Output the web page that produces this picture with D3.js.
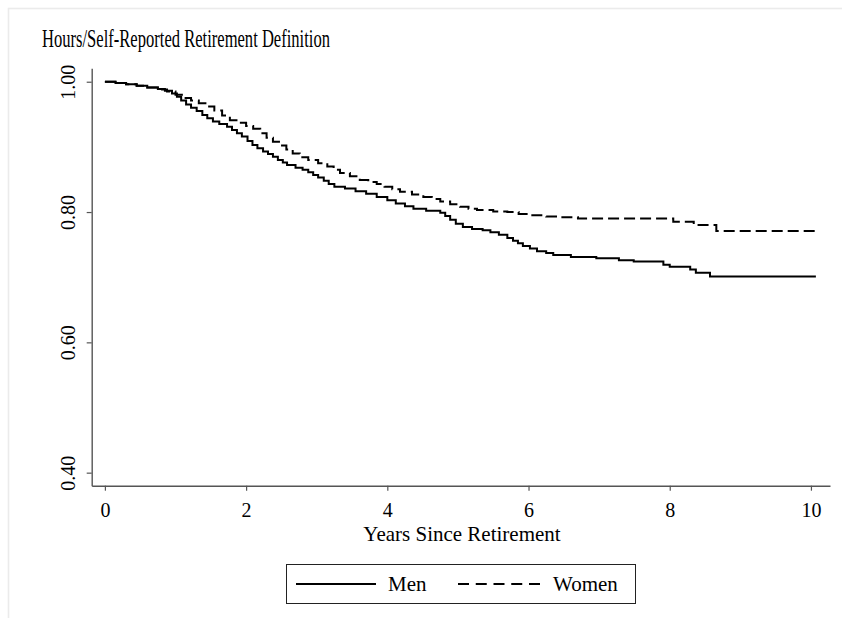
<!DOCTYPE html>
<html>
<head>
<meta charset="utf-8">
<script src="https://cdn.jsdelivr.net/npm/d3@7"></script>
<style>
  html, body { margin: 0; padding: 0; background: #fff; }
  svg { display: block; }
  text { font-family: "Liberation Serif", "Times New Roman", serif; fill: #000; }
</style>
</head>
<body>
<svg id="chart" width="842" height="618"></svg>
<script>
// ---- Data ----
const title = "Hours/Self-Reported Retirement Definition";
const xLabel = "Years Since Retirement";
const seriesNames = ["Men", "Women"];

// Kaplan-Meier step points: time (years) and survival probability
const menTimes = [0, 0.15, 0.30, 0.45, 0.60, 0.75, 0.85, 0.95, 1.02, 1.08, 1.15, 1.22, 1.30, 1.38, 1.45, 1.53, 1.62, 1.73, 1.80, 1.87, 1.94, 2.02, 2.09, 2.16, 2.24, 2.31, 2.38, 2.45, 2.52, 2.58, 2.70, 2.80, 2.88, 2.95, 3.02, 3.10, 3.17, 3.25, 3.40, 3.55, 3.70, 3.85, 4.00, 4.12, 4.25, 4.37, 4.55, 4.75, 4.82, 4.89, 4.97, 5.07, 5.20, 5.35, 5.46, 5.58, 5.70, 5.78, 5.85, 5.92, 6.02, 6.12, 6.25, 6.35, 6.60, 6.96, 7.28, 7.49, 7.91, 8.00, 8.29, 8.37, 8.57, 10.07];
const menSurv  = [1.000, 0.998, 0.996, 0.994, 0.991, 0.989, 0.986, 0.982, 0.977, 0.971, 0.965, 0.960, 0.955, 0.949, 0.944, 0.939, 0.935, 0.931, 0.926, 0.921, 0.916, 0.909, 0.903, 0.898, 0.893, 0.889, 0.885, 0.880, 0.876, 0.872, 0.868, 0.865, 0.861, 0.857, 0.853, 0.848, 0.843, 0.839, 0.836, 0.832, 0.828, 0.823, 0.818, 0.813, 0.809, 0.805, 0.802, 0.799, 0.794, 0.788, 0.782, 0.777, 0.774, 0.772, 0.769, 0.765, 0.760, 0.756, 0.752, 0.748, 0.744, 0.740, 0.737, 0.734, 0.731, 0.729, 0.726, 0.724, 0.719, 0.716, 0.712, 0.707, 0.701, 0.701];

const womenTimes = [0, 0.15, 0.30, 0.45, 0.60, 0.75, 0.88, 1.00, 1.11, 1.22, 1.33, 1.45, 1.55, 1.66, 1.77, 1.88, 2.00, 2.10, 2.20, 2.29, 2.38, 2.48, 2.57, 2.66, 2.76, 2.88, 3.02, 3.15, 3.24, 3.33, 3.47, 3.61, 3.73, 3.85, 3.96, 4.07, 4.18, 4.35, 4.51, 4.63, 4.75, 4.89, 5.03, 5.15, 5.27, 5.50, 5.70, 5.86, 6.02, 6.25, 6.45, 6.70, 8.05, 8.34, 8.66, 10.07];
const womenSurv  = [1.000, 0.998, 0.996, 0.994, 0.991, 0.988, 0.985, 0.980, 0.975, 0.971, 0.967, 0.962, 0.956, 0.948, 0.941, 0.937, 0.932, 0.928, 0.921, 0.914, 0.908, 0.902, 0.896, 0.890, 0.884, 0.880, 0.875, 0.870, 0.865, 0.860, 0.855, 0.849, 0.846, 0.843, 0.839, 0.835, 0.831, 0.827, 0.823, 0.820, 0.816, 0.812, 0.808, 0.805, 0.803, 0.801, 0.800, 0.797, 0.795, 0.793, 0.792, 0.790, 0.785, 0.780, 0.771, 0.771];

const xTickValues = [0, 2, 4, 6, 8, 10];
const yTickValues = [0.40, 0.60, 0.80, 1.00];

// ---- Layout ----
const svg = d3.select("#chart");
const axisColor = "#555";

// light frame
svg.append("rect")
  .attr("x", 8.5).attr("y", 8.5).attr("width", 900).attr("height", 700)
  .attr("fill", "none").attr("stroke", "#ebebeb").attr("stroke-width", 1.6);

const x = d3.scaleLinear().domain([-0.187, 10.27]).range([91.7, 830]);
const y = d3.scaleLinear().domain([0.38, 1.0206]).range([485.7, 68.3]);

// title
svg.append("text")
  .attr("x", 42).attr("y", 47)
  .attr("font-size", 26)
  .attr("textLength", 288).attr("lengthAdjust", "spacingAndGlyphs")
  .text(title);

// x axis
const gx = svg.append("g").attr("transform", `translate(0,${y(0.38)})`)
  .call(d3.axisBottom(x).tickValues(xTickValues).tickSize(5).tickSizeOuter(0).tickFormat(d3.format("d")));
gx.select(".domain").attr("stroke", axisColor).attr("stroke-width", 1.4);
gx.selectAll(".tick line").attr("stroke", axisColor).attr("stroke-width", 1.2);
gx.selectAll(".tick text")
  .attr("font-family", "Liberation Serif, Times New Roman, serif")
  .attr("font-size", 20).attr("fill", "#000").attr("dy", null).attr("y", 31);

// y axis
const gy = svg.append("g").attr("transform", `translate(${x(-0.187)},0)`)
  .call(d3.axisLeft(y).tickValues(yTickValues).tickSize(5).tickSizeOuter(0).tickFormat(d3.format(".2f")));
gy.select(".domain").attr("stroke", axisColor).attr("stroke-width", 1.4);
gy.selectAll(".tick line").attr("stroke", axisColor).attr("stroke-width", 1.2);
gy.selectAll(".tick text")
  .attr("font-family", "Liberation Serif, Times New Roman, serif")
  .attr("font-size", 20).attr("fill", "#000")
  .attr("x", null).attr("dy", null)
  .attr("text-anchor", "middle")
  .attr("transform", "translate(-17,0) rotate(-90)");

// x axis title
svg.append("text")
  .attr("x", 462).attr("y", 541)
  .attr("text-anchor", "middle")
  .attr("font-size", 21)
  .text(xLabel);

// curves
const line = d3.line()
  .x(d => x(d[0])).y(d => y(d[1]))
  .curve(d3.curveStepAfter);

const menData = menTimes.map((t, i) => [t, menSurv[i]]);
const womenData = womenTimes.map((t, i) => [t, womenSurv[i]]);

svg.append("path").datum(womenData)
  .attr("d", line).attr("fill", "none").attr("stroke", "#000")
  .attr("stroke-width", 2).attr("stroke-dasharray", "11,5");

svg.append("path").datum(menData)
  .attr("d", line).attr("fill", "none").attr("stroke", "#000")
  .attr("stroke-width", 2);

// legend
const lg = svg.append("g");
lg.append("rect")
  .attr("x", 286.5).attr("y", 564.5).attr("width", 349).attr("height", 39)
  .attr("fill", "#fff").attr("stroke", "#222").attr("stroke-width", 1);
const ly = 584;
lg.append("line").attr("x1", 296).attr("x2", 376).attr("y1", ly).attr("y2", ly)
  .attr("stroke", "#000").attr("stroke-width", 2);
lg.append("text").attr("x", 388).attr("y", ly + 7).attr("font-size", 21).text(seriesNames[0]);
lg.append("line").attr("x1", 458).attr("x2", 540).attr("y1", ly).attr("y2", ly)
  .attr("stroke", "#000").attr("stroke-width", 2).attr("stroke-dasharray", "11,6.75");
lg.append("text").attr("x", 553).attr("y", ly + 7).attr("font-size", 21).text(seriesNames[1]);
</script>
</body>
</html>
